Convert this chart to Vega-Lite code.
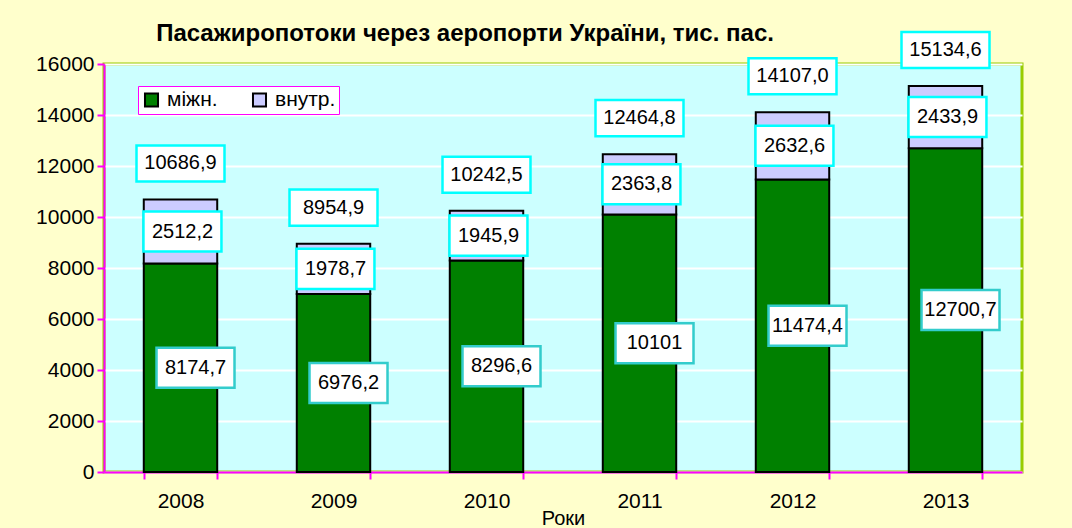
{
  "$schema": "https://vega.github.io/schema/vega-lite/v6.json",
  "width": 918,
  "height": 408,
  "autosize": "none",
  "padding": {"left": 104, "top": 64, "right": 50, "bottom": 56},
  "background": "#FFFFCC",
  "title": {
    "text": "Пасажиропотоки через аеропорти України, тис. пас.",
    "font": "Liberation Sans",
    "fontSize": 24,
    "fontWeight": "bold",
    "color": "#000000",
    "anchor": "middle",
    "frame": "group",
    "baseline": "middle",
    "dx": -98,
    "offset": -31
  },
  "config": {
    "font": "Liberation Sans",
    "view": {"fill": "#CCFFFF", "stroke": "#99CC00", "strokeWidth": 3},
    "axis": {"labelFont": "Liberation Sans", "titleFont": "Liberation Sans"}
  },
  "datasets": {
    "seg": [
      {"year": "2008", "type": "міжн.", "value": 8174.7, "label": "8174,7"},
      {"year": "2008", "type": "внутр.", "value": 2512.2, "label": "2512,2"},
      {"year": "2009", "type": "міжн.", "value": 6976.2, "label": "6976,2"},
      {"year": "2009", "type": "внутр.", "value": 1978.7, "label": "1978,7"},
      {"year": "2010", "type": "міжн.", "value": 8296.6, "label": "8296,6"},
      {"year": "2010", "type": "внутр.", "value": 1945.9, "label": "1945,9"},
      {"year": "2011", "type": "міжн.", "value": 10101, "label": "10101"},
      {"year": "2011", "type": "внутр.", "value": 2363.8, "label": "2363,8"},
      {"year": "2012", "type": "міжн.", "value": 11474.4, "label": "11474,4"},
      {"year": "2012", "type": "внутр.", "value": 2632.6, "label": "2632,6"},
      {"year": "2013", "type": "міжн.", "value": 12700.7, "label": "12700,7"},
      {"year": "2013", "type": "внутр.", "value": 2433.9, "label": "2433,9"}
    ],
    "tot": [
      {"year": "2008", "total": 10686.9, "label": "10686,9"},
      {"year": "2009", "total": 8954.9, "label": "8954,9"},
      {"year": "2010", "total": 10242.5, "label": "10242,5"},
      {"year": "2011", "total": 12464.8, "label": "12464,8"},
      {"year": "2012", "total": 14107.0, "label": "14107,0"},
      {"year": "2013", "total": 15134.6, "label": "15134,6"}
    ]
  },
  "layer": [
    {
      "data": {"name": "seg"},
      "mark": {"type": "bar", "stroke": "#000000", "strokeWidth": 2},
      "encoding": {
        "x": {
          "field": "year", "type": "nominal",
          "scale": {"paddingInner": 0.52, "paddingOuter": 0.26},
          "axis": {
            "title": "Роки", "titleFontSize": 20, "titleFontWeight": "normal", "titleColor": "#000000", "titlePadding": -3,
            "labelAngle": 0, "labelFontSize": 21, "labelColor": "#000000", "labelPadding": 11,
            "domainColor": "#FF00FF", "domainWidth": 2,
            "tickColor": "#FF00FF", "tickWidth": 2, "tickSize": 7, "tickBand": "extent",
            "grid": false
          }
        },
        "y": {
          "field": "value", "type": "quantitative", "stack": "zero",
          "scale": {"domain": [0, 16000]},
          "axis": {
            "title": null, "values": [0, 2000, 4000, 6000, 8000, 10000, 12000, 14000, 16000],
            "format": "d", "labelFontSize": 21, "labelColor": "#000000", "labelPadding": 3,
            "domainColor": "#FF00FF", "domainWidth": 2,
            "tickColor": "#FF00FF", "tickWidth": 2, "tickSize": 7,
            "grid": true, "gridColor": "#FFFFFF", "gridWidth": 2, "gridOpacity": 1
          }
        },
        "color": {
          "field": "type", "type": "nominal",
          "scale": {"domain": ["міжн.", "внутр."], "range": ["#008000", "#CCCCFF"]},
          "legend": {
            "title": null, "orient": "none", "legendX": 34, "legendY": 22,
            "direction": "horizontal", "columns": 2, "columnPadding": 30,
            "symbolType": "square", "symbolSize": 170, "symbolStrokeColor": "#000000", "symbolStrokeWidth": 2,
            "labelFontSize": 21, "labelColor": "#000000", "labelFont": "Liberation Sans", "labelOffset": 5,
            "fillColor": "#FFFFFF", "strokeColor": "#FF00FF", "padding": 3
          }
        },
        "order": {"field": "type", "sort": "descending"}
      }
    },
    {
      "data": {"name": "seg"},
      "transform": [
        {"stack": "value", "groupby": ["year"], "sort": [{"field": "type", "order": "descending"}], "as": ["v0", "v1"]},
        {"calculate": "(datum.v0 + datum.v1) / 2", "as": "mid"},
        {"filter": "datum.type === 'внутр.'"}
      ],
      "layer": [
        {
          "mark": {"type": "point", "shape": "M-0.95,-0.513L1.05,-0.513L1.05,0.513L-0.95,0.513Z", "size": 6084, "filled": true, "fill": "#FFFFFF", "fillOpacity": 1, "stroke": "#00FFFF", "strokeWidth": 2.5, "opacity": 1},
          "encoding": {"x": {"field": "year", "type": "nominal"}, "y": {"field": "mid", "type": "quantitative"}}
        },
        {
          "mark": {"type": "text", "fontSize": 20, "color": "#000000", "dx": 2, "baseline": "middle"},
          "encoding": {"x": {"field": "year", "type": "nominal"}, "y": {"field": "mid", "type": "quantitative"}, "text": {"field": "label"}}
        }
      ]
    },
    {
      "data": {"name": "seg"},
      "transform": [
        {"stack": "value", "groupby": ["year"], "sort": [{"field": "type", "order": "descending"}], "as": ["v0", "v1"]},
        {"calculate": "(datum.v0 + datum.v1) / 2", "as": "mid"},
        {"filter": "datum.type === 'міжн.'"}
      ],
      "layer": [
        {
          "mark": {"type": "point", "shape": "M-0.615,-0.513L1.385,-0.513L1.385,0.513L-0.615,0.513Z", "size": 6084, "filled": true, "fill": "#FFFFFF", "fillOpacity": 1, "stroke": "#33CCCC", "strokeWidth": 2.5, "opacity": 1},
          "encoding": {"x": {"field": "year", "type": "nominal"}, "y": {"field": "mid", "type": "quantitative"}}
        },
        {
          "mark": {"type": "text", "fontSize": 20, "color": "#000000", "dx": 15, "baseline": "middle"},
          "encoding": {"x": {"field": "year", "type": "nominal"}, "y": {"field": "mid", "type": "quantitative"}, "text": {"field": "label"}}
        }
      ]
    },
    {
      "data": {"name": "tot"},
      "layer": [
        {
          "mark": {"type": "point", "shape": "M-1,-1.228L1,-1.228L1,-0.408L-1,-0.408Z", "size": 7744, "filled": true, "fill": "#FFFFFF", "fillOpacity": 1, "stroke": "#00FFFF", "strokeWidth": 2.5, "opacity": 1, "clip": false},
          "encoding": {"x": {"field": "year", "type": "nominal"}, "y": {"field": "total", "type": "quantitative"}}
        },
        {
          "mark": {"type": "text", "fontSize": 20, "color": "#000000", "dy": -36, "baseline": "middle"},
          "encoding": {"x": {"field": "year", "type": "nominal"}, "y": {"field": "total", "type": "quantitative"}, "text": {"field": "label"}}
        }
      ]
    }
  ]
}
